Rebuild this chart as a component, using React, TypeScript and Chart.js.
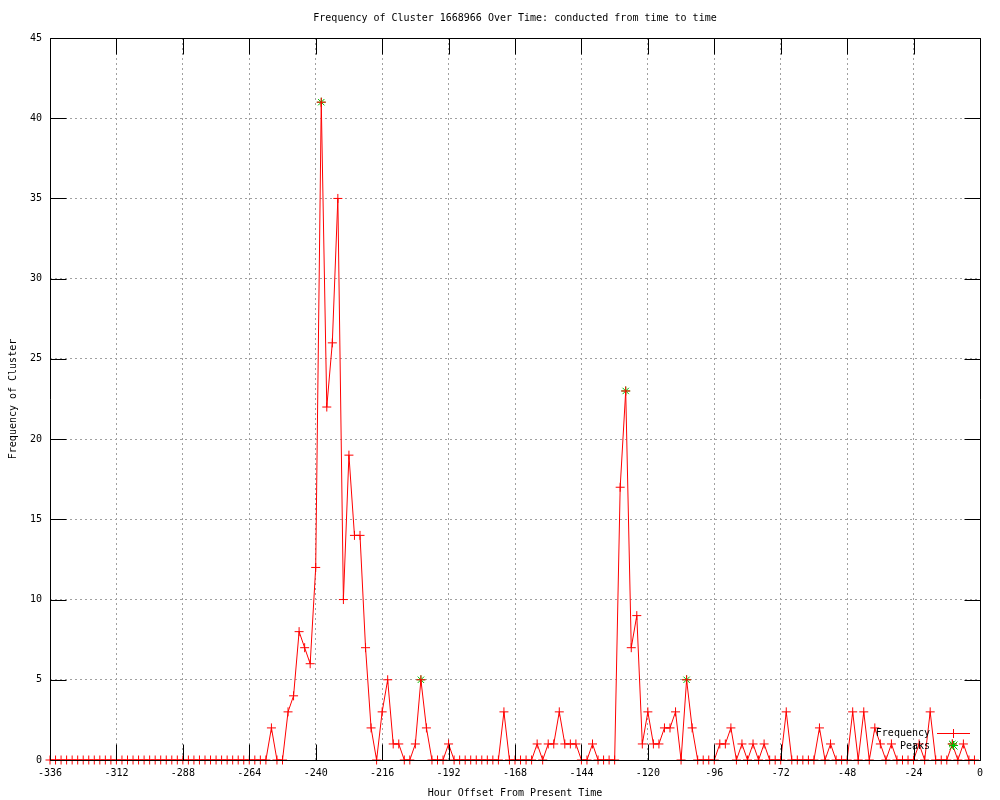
import React, { useEffect, useRef } from "react";
import { Chart, registerables } from "chart.js";

Chart.register(...registerables);

const TITLE = "Frequency of Cluster 1668966 Over Time: conducted from time to time";
const X_TITLE = "Hour Offset From Present Time";
const Y_TITLE = "Frequency of Cluster";

// Frequency every 2 hours, from -336 to -2
const FREQUENCY: number[] = [
  // -336 .. -258
  0, 0, 0, 0, 0, 0, 0, 0, 0, 0,
  0, 0, 0, 0, 0, 0, 0, 0, 0, 0,
  0, 0, 0, 0, 0, 0, 0, 0, 0, 0,
  0, 0, 0, 0, 0, 0, 0, 0, 0, 0,
  // -256 .. -238
  2, 0, 0, 3, 4, 8, 7, 6, 12, 41,
  // -236 .. -218
  22, 26, 35, 10, 19, 14, 14, 7, 2, 0,
  // -216 .. -198
  3, 5, 1, 1, 0, 0, 1, 5, 2, 0,
  // -196 .. -178
  0, 0, 1, 0, 0, 0, 0, 0, 0, 0,
  // -176 .. -158
  0, 0, 3, 0, 0, 0, 0, 0, 1, 0,
  // -156 .. -138
  1, 1, 3, 1, 1, 1, 0, 0, 1, 0,
  // -136 .. -118
  0, 0, 0, 17, 23, 7, 9, 1, 3, 1,
  // -116 .. -98
  1, 2, 2, 3, 0, 5, 2, 0, 0, 0,
  // -96 .. -78
  0, 1, 1, 2, 0, 1, 0, 1, 0, 1,
  // -76 .. -58
  0, 0, 0, 3, 0, 0, 0, 0, 0, 2,
  // -56 .. -38
  0, 1, 0, 0, 0, 3, 0, 3, 0, 2,
  // -36 .. -18
  1, 0, 1, 0, 0, 0, 0, 1, 0, 3,
  // -16 .. -2
  0, 0, 0, 1, 0, 1, 0, 0,
];
const HOURS: number[] = FREQUENCY.map((_, i) => -336 + 2 * i);

const PEAK_HOURS: number[] = [-238, -202, -128, -106, -10];
const PEAK_VALUES: number[] = [41, 5, 23, 5, 1];

const X_TICKS: number[] = [-336, -312, -288, -264, -240, -216, -192, -168, -144, -120, -96, -72, -48, -24, 0];
const Y_TICKS: number[] = [0, 5, 10, 15, 20, 25, 30, 35, 40, 45];

const FONT = '"DejaVu Sans Mono", "Liberation Mono", monospace';
const RED = "#ff0000";
const GREEN = "#00c000";

const gnuplotPlugin = {
  id: "gnuplotDecor",
  afterDatasetsDraw(chart: any) {
    const { ctx, chartArea, scales } = chart;
    const { left, right, top, bottom } = chartArea;
    const xs = scales.x;
    const ys = scales.y;
    const TL = 16;
    ctx.save();
    ctx.strokeStyle = "#000";
    ctx.lineWidth = 1;
    ctx.beginPath();
    const L = Math.round(left) + 0.5;
    const R = Math.round(right) + 0.5;
    const T = Math.round(top) + 0.5;
    const B = Math.round(bottom) + 0.5;
    ctx.moveTo(L, T);
    ctx.lineTo(R, T);
    ctx.lineTo(R, B);
    ctx.lineTo(L, B);
    ctx.closePath();
    for (const v of X_TICKS) {
      const px = Math.round(xs.getPixelForValue(v)) + 0.5;
      ctx.moveTo(px, B);
      ctx.lineTo(px, B - TL);
      ctx.moveTo(px, T);
      ctx.lineTo(px, T + TL);
    }
    for (const v of Y_TICKS) {
      const py = Math.round(ys.getPixelForValue(v)) + 0.5;
      ctx.moveTo(L, py);
      ctx.lineTo(L + TL, py);
      ctx.moveTo(R, py);
      ctx.lineTo(R - TL, py);
    }
    ctx.stroke();

    // titles
    ctx.fillStyle = "#000";
    ctx.font = `10px ${FONT}`;
    ctx.textAlign = "center";
    ctx.textBaseline = "middle";
    const cx = (left + right) / 2;
    ctx.fillText(TITLE, cx, 18);
    ctx.fillText(X_TITLE, cx, 793);
    ctx.save();
    ctx.translate(13, (top + bottom) / 2);
    ctx.rotate(-Math.PI / 2);
    ctx.fillText(Y_TITLE, 0, 0);
    ctx.restore();

    // legend
    ctx.textAlign = "right";
    ctx.fillText("Frequency", 930, 733);
    ctx.fillText("Peaks", 930, 746);
    ctx.strokeStyle = RED;
    ctx.beginPath();
    ctx.moveTo(937, 733.5);
    ctx.lineTo(970, 733.5);
    ctx.moveTo(953.5, 729);
    ctx.lineTo(953.5, 738);
    ctx.stroke();
    // peaks sample: green star
    ctx.strokeStyle = GREEN;
    ctx.beginPath();
    ctx.moveTo(949.5, 741.5);
    ctx.lineTo(957.5, 749.5);
    ctx.moveTo(957.5, 741.5);
    ctx.lineTo(949.5, 749.5);
    ctx.moveTo(949, 745.5);
    ctx.lineTo(958, 745.5);
    ctx.moveTo(953.5, 741);
    ctx.lineTo(953.5, 750);
    ctx.stroke();
    ctx.restore();
  },
};

export default function App() {
  const ref = useRef<HTMLCanvasElement | null>(null);
  useEffect(() => {
    if (!ref.current) return;
    const freqData = HOURS.map((h, i) => ({ x: h, y: FREQUENCY[i] }));
    const peakData = PEAK_HOURS.map((h, i) => ({ x: h, y: PEAK_VALUES[i] }));
    const chart = new Chart(ref.current, {
      type: "line",
      data: {
        datasets: [
          {
            label: "Frequency",
            data: freqData,
            borderColor: RED,
            borderWidth: 1,
            pointStyle: "cross",
            pointRadius: 4.5,
            pointBorderColor: RED,
            pointBorderWidth: 1,
            pointBackgroundColor: RED,
            tension: 0,
            clip: false,
            order: 0,
          },
          {
            label: "Peaks",
            data: peakData,
            showLine: false,
            pointStyle: "star",
            pointRadius: 4.5,
            pointBorderColor: GREEN,
            pointBorderWidth: 1,
            pointBackgroundColor: GREEN,
            clip: false,
            order: 1,
          },
        ],
      },
      options: {
        animation: false,
        responsive: false,
        devicePixelRatio: 1,
        layout: { padding: { top: 38, right: 20, left: 0, bottom: 0 } },
        plugins: {
          legend: { display: false },
          title: { display: false },
          tooltip: { enabled: false },
        },
        scales: {
          x: {
            type: "linear",
            min: -336,
            max: 0,
            afterFit: (s: any) => {
              s.height = 40;
            },
            afterBuildTicks: (s: any) => {
              s.ticks = X_TICKS.map((v) => ({ value: v }));
            },
            ticks: {
              color: "#000",
              font: { family: FONT, size: 10 },
              padding: 7,
              maxRotation: 0,
              autoSkip: false,
              callback: (v: any) => String(v),
            },
            grid: { color: "#a0a0a0", lineWidth: 1, drawTicks: false },
            border: { display: false, dash: [2, 3] },
          },
          y: {
            type: "linear",
            min: 0,
            max: 45,
            afterFit: (s: any) => {
              s.width = 50;
            },
            afterBuildTicks: (s: any) => {
              s.ticks = Y_TICKS.map((v) => ({ value: v }));
            },
            ticks: {
              color: "#000",
              font: { family: FONT, size: 10 },
              padding: 8,
              autoSkip: false,
              callback: (v: any) => String(v),
            },
            grid: { color: "#a0a0a0", lineWidth: 1, drawTicks: false },
            border: { display: false, dash: [2, 3] },
          },
        },
      },
      plugins: [gnuplotPlugin],
    });
    return () => chart.destroy();
  }, []);
  return (
    <div style={{ position: "fixed", left: 0, top: 0, width: 1000, height: 800, background: "#fff" }}>
      <canvas ref={ref} width={1000} height={800} style={{ width: 1000, height: 800, display: "block" }} />
    </div>
  );
}
